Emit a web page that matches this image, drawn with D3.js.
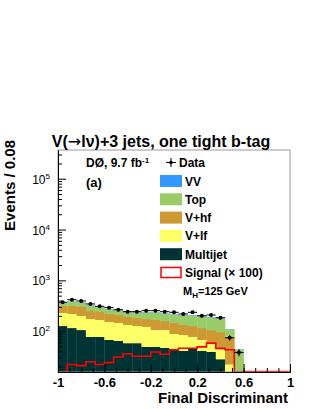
<!DOCTYPE html>
<meta charset="utf-8">
<style>
body { margin: 0; background: #fff; }
svg { font-family: "Liberation Sans", Arial, Helvetica, sans-serif; }
.tick text { font-weight: bold; }
</style>
<svg width="316" height="409"></svg>
<script src="https://d3js.org/d3.v7.min.js"></script>
<script>

  // bins: 25 bins of width 0.08 from -1 to 1
  var binStart = -1, binWidth = 0.08, nBins = 25;

  // stacked backgrounds, events per bin
  var multijet = [126, 115, 105, 77, 77, 67, 64, 58, 58, 49, 49, 47, 43, 41, 45, 41, 39, 28, 10, 2, 0, 0, 0, 0, 0];
  var vlf      = [102, 103, 94, 96, 89, 84, 81, 74, 68, 72, 56, 58, 45, 43, 32, 26, 17, 15, 12, 2, 0, 0, 0, 0, 0];
  var vhf      = [85, 95, 100, 76, 72, 67, 63, 58, 56, 52, 61, 53, 57, 48, 49, 48, 49, 53, 55, 4, 0, 0, 0, 0, 0];
  var topq     = [40, 74, 70, 72, 56, 50, 48, 43, 51, 60, 67, 65, 68, 71, 77, 79, 80, 81, 31, 35, 0, 0, 0, 0, 0];
  var vv       = [5, 6, 6, 6, 5, 5, 5, 5, 5, 5, 5, 5, 5, 5, 5, 5, 5, 5, 2, 1, 0, 0, 0, 0, 0];
  var dataPts  = [370, 416, 393, 343, 308, 290, 264, 242, 242, 253, 253, 242, 235, 218, 235, 201, 208, 184, 74, 38, 0, 0, 0, 0, 0];
  var signal   = [10, 22, 21, 25, 22, 24, 31, 36, 32, 32, 39, 35, 43, 46, 46, 49, 58, 46, 43, 5, 0, 0, 0, 0, 0];

  var xMajor = [-1, -0.6, -0.2, 0.2, 0.6, 1];
  var xMajorLabels = ["-1", "-0.6", "-0.2", "0.2", "0.6", "1"];
  var yMajor = [100, 1000, 10000, 100000];
  var yMajorExp = ["2", "3", "4", "5"];

  var layers = [
    { name: "Multijet", vals: multijet, color: "#003333" },
    { name: "V+lf", vals: vlf, color: "#ffff66" },
    { name: "V+hf", vals: vhf, color: "#cc9933" },
    { name: "Top", vals: topq, color: "#99cc66" },
    { name: "VV", vals: vv, color: "#3399ff" }
  ];

  var svg = d3.select("svg"),
      left = 58, right = 290, topY = 150, bottom = 372;

  var x = d3.scaleLinear().domain([-1, 1]).range([left, right]);
  var y = d3.scaleLog().domain([15.7, 3.68e5]).range([bottom, topY]).clamp(true);

  var edges = d3.range(nBins + 1).map(function(i) { return binStart + binWidth * i; });

  svg.append("clipPath").attr("id", "clip")
    .append("rect").attr("x", left).attr("y", topY).attr("width", right - left).attr("height", bottom - topY);

  var plot = svg.append("g").attr("clip-path", "url(#clip)");

  // stacked histogram
  var cum = d3.range(nBins).map(function() { return 0; });
  layers.forEach(function(l) {
    var rows = d3.range(nBins).map(function(i) {
      var lo = cum[i], hi = cum[i] + l.vals[i];
      cum[i] = hi;
      return { i: i, lo: lo, hi: hi };
    }).filter(function(d) { return d.hi > d.lo; });
    plot.append("g").selectAll("rect")
      .data(rows)
      .enter().append("rect")
      .attr("x", function(d) { return x(edges[d.i]); })
      .attr("width", function(d) { return x(edges[d.i + 1]) - x(edges[d.i]) + 0.3; })
      .attr("y", function(d) { return y(d.hi); })
      .attr("height", function(d) { return (d.lo > 0 ? y(d.lo) : bottom) - y(d.hi); })
      .attr("fill", l.color);
  });

  // signal x100, step outline
  var sigPts = signal.map(function(v, i) { return [edges[i], v]; });
  sigPts.push([edges[nBins], signal[nBins - 1]]);
  plot.append("path")
    .attr("d", d3.line()
      .x(function(d) { return x(d[0]); })
      .y(function(d) { return d[1] > 0 ? y(d[1]) : bottom - 0.5; })
      .curve(d3.curveStepAfter)(sigPts))
    .attr("fill", "none")
    .attr("stroke", "#ff0000")
    .attr("stroke-width", 1.6);

  // data points with errors
  var pts = dataPts.map(function(v, i) { return { i: i, v: v }; }).filter(function(d) { return d.v > 0; });
  var dg = plot.append("g").selectAll("g").data(pts).enter().append("g");
  dg.append("line")
    .attr("x1", function(d) { return x(edges[d.i]); })
    .attr("x2", function(d) { return x(edges[d.i + 1]); })
    .attr("y1", function(d) { return y(d.v); })
    .attr("y2", function(d) { return y(d.v); })
    .attr("stroke", "#000").attr("stroke-width", 1);
  dg.append("line")
    .attr("x1", function(d) { return x(edges[d.i] + binWidth / 2); })
    .attr("x2", function(d) { return x(edges[d.i] + binWidth / 2); })
    .attr("y1", function(d) { return y(d.v + Math.sqrt(d.v)); })
    .attr("y2", function(d) { return y(d.v - Math.sqrt(d.v)); })
    .attr("stroke", "#000").attr("stroke-width", 1);
  dg.append("circle")
    .attr("cx", function(d) { return x(edges[d.i] + binWidth / 2); })
    .attr("cy", function(d) { return y(d.v); })
    .attr("r", 2)
    .attr("fill", "#000");

  // frame
  svg.append("rect")
    .attr("x", left).attr("y", topY).attr("width", right - left).attr("height", bottom - topY)
    .attr("fill", "none").attr("stroke", "#999").attr("stroke-width", 1);

  // x axis
  var xMinor = d3.range(-10, 11).map(function(k) { return k / 10; });
  svg.append("g")
    .attr("transform", "translate(0," + bottom + ")")
    .call(d3.axisBottom(x).tickValues(xMinor).tickSize(-4).tickSizeOuter(0).tickFormat(""));
  var gx = svg.append("g")
    .attr("transform", "translate(0," + bottom + ")")
    .call(d3.axisBottom(x).tickValues(xMajor).tickSize(-8).tickSizeOuter(0)
      .tickFormat(function(d, i) { return xMajorLabels[i]; }));
  gx.selectAll(".tick text")
    .attr("y", 15).attr("dy", 0)
    .attr("font-size", 13).attr("fill", "#000")
    .attr("font-family", "'Liberation Sans', Arial, sans-serif");
  svg.selectAll(".domain").attr("stroke", "#000");

  // y axis
  var yMinor = [];
  [10, 100, 1000, 10000, 100000].forEach(function(dec) {
    for (var m = 2; m <= 9; m++) yMinor.push(dec * m);
  });
  svg.append("g")
    .attr("transform", "translate(" + left + ",0)")
    .call(d3.axisLeft(y).tickValues(yMinor.filter(function(v) { return v >= 15.7 && v <= 3.68e5; }))
      .tickSize(-4).tickSizeOuter(0).tickFormat(""));
  var gy = svg.append("g")
    .attr("transform", "translate(" + left + ",0)")
    .call(d3.axisLeft(y).tickValues(yMajor).tickSize(-8).tickSizeOuter(0).tickFormat(""));
  gy.selectAll(".tick").append("text")
    .attr("x", -8).attr("y", 4.5)
    .attr("text-anchor", "end")
    .attr("fill", "#000")
    .attr("font-size", 12)
    .style("font-weight", "normal")
    .each(function(d, i) {
      var t = d3.select(this);
      t.append("tspan").text("10");
      t.append("tspan").attr("dy", -5).attr("font-size", 8).text(yMajorExp[i]);
    });

  // axis titles
  svg.append("text")
    .attr("x", 288).attr("y", 403)
    .attr("text-anchor", "end")
    .attr("font-size", 15).attr("font-weight", "bold")
    .text("Final Discriminant");
  svg.append("text")
    .attr("transform", "translate(15,140) rotate(-90)")
    .attr("text-anchor", "end")
    .attr("font-size", 15).attr("font-weight", "bold")
    .text("Events / 0.08");

  // title
  var title = svg.append("text")
    .attr("x", 161).attr("y", 147)
    .attr("text-anchor", "middle")
    .attr("font-size", 16).attr("font-weight", "bold");
  title.append("tspan").text("V(");
  title.append("tspan").attr("font-family", "'DejaVu Sans', sans-serif").attr("font-weight", "normal").text("\u2192");
  title.append("tspan").text("l\u03bd)+3 jets, one tight b-tag");

  // labels
  var lab = svg.append("text").attr("x", 86).attr("y", 167)
    .attr("font-size", 12).attr("font-weight", "bold");
  lab.append("tspan").text("D\u00d8, 9.7 fb");
  lab.append("tspan").attr("dy", -4).attr("font-size", 8).text("-1");
  svg.append("text").attr("x", 86).attr("y", 187)
    .attr("font-size", 13).attr("font-weight", "bold").text("(a)");

  // legend
  var lx = 160, lw = 22, lh = 12;
  svg.append("line").attr("x1", 166).attr("x2", 176).attr("y1", 162.5).attr("y2", 162.5).attr("stroke", "#000");
  svg.append("line").attr("x1", 171).attr("x2", 171).attr("y1", 158).attr("y2", 167).attr("stroke", "#000");
  svg.append("circle").attr("cx", 171).attr("cy", 162.5).attr("r", 1.8).attr("fill", "#000");
  svg.append("text").attr("x", 179).attr("y", 167).attr("font-size", 12).attr("font-weight", "bold").text("Data");

  var legendItems = [layers[4], layers[3], layers[2], layers[1], layers[0]];
  legendItems.forEach(function(l, k) {
    var ty = 175 + k * 18.3;
    svg.append("rect").attr("x", lx).attr("y", ty).attr("width", lw).attr("height", lh).attr("fill", l.color);
    svg.append("text").attr("x", lx + 25).attr("y", ty + 10.5)
      .attr("font-size", 12).attr("font-weight", "bold").text(l.name);
  });
  var sy = 175 + 5 * 18.3;
  svg.append("rect").attr("x", lx + 1).attr("y", sy + 1).attr("width", lw - 2).attr("height", lh - 2)
    .attr("fill", "#fff").attr("stroke", "#ff0000").attr("stroke-width", 1.5);
  svg.append("text").attr("x", lx + 25).attr("y", sy + 10.5)
    .attr("font-size", 12).attr("font-weight", "bold").text("Signal (\u00d7 100)");
  var mh = svg.append("text").attr("x", 183).attr("y", 295)
    .attr("font-size", 11).attr("font-weight", "bold");
  mh.append("tspan").text("M");
  mh.append("tspan").attr("dy", 3).attr("font-size", 8).text("H");
  mh.append("tspan").attr("dy", -3).text("=125 GeV");
</script>
